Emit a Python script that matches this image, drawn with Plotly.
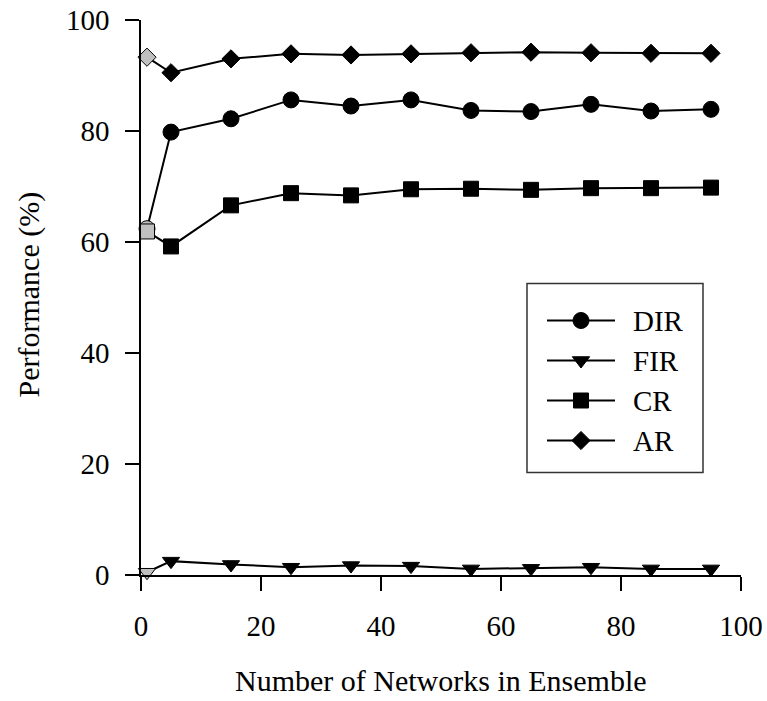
import plotly.graph_objects as go

# Ensemble size (number of networks)
n_networks = [1, 5, 15, 25, 35, 45, 55, 65, 75, 85, 95]

# Performance (%) per metric
dir_vals = [62.4, 79.8, 82.2, 85.6, 84.5, 85.6, 83.7, 83.5, 84.8, 83.6, 83.9]
fir_vals = [0.5, 2.5, 1.9, 1.4, 1.7, 1.6, 1.1, 1.2, 1.4, 1.1, 1.1]
cr_vals = [61.9, 59.2, 66.6, 68.8, 68.4, 69.5, 69.6, 69.4, 69.7, 69.7, 69.8]
ar_vals = [93.3, 90.5, 93.0, 93.9, 93.7, 93.9, 94.1, 94.2, 94.1, 94.0, 94.0]

series_names = ["DIR", "FIR", "CR", "AR"]
series_values = [dir_vals, fir_vals, cr_vals, ar_vals]
symbols = ["circle", "triangle-down", "square", "diamond"]
sizes = [16, 15, 15, 14]

x_ticks = [0, 20, 40, 60, 80, 100]
y_ticks = [0, 20, 40, 60, 80, 100]

FONT = "Liberation Serif, Times New Roman, serif"
SINGLE = "#c0c0c0"   # single-network point
INK = "black"

fig = go.Figure()

for name, vals, sym, sz in zip(series_names, series_values, symbols, sizes):
    colors = [SINGLE] + [INK] * (len(vals) - 1)
    fig.add_trace(go.Scatter(
        x=n_networks, y=vals, name=name, mode="lines+markers",
        line=dict(color=INK, width=2),
        marker=dict(symbol=sym, size=sz, color=colors,
                    line=dict(color=INK, width=1)),
        cliponaxis=False, showlegend=False,
    ))

# Legend drawn in a pixel-unit overlay over the plot area
LX0, LX1, LY0, LY1 = 527, 703, 283, 472
row_y = [320, 360, 400, 440]
for name, sym, sz, yy in zip(series_names, symbols, sizes, row_y):
    fig.add_trace(go.Scatter(
        x=[547, 615], y=[yy, yy], mode="lines",
        line=dict(color=INK, width=2),
        xaxis="x2", yaxis="y2", cliponaxis=False, showlegend=False,
        hoverinfo="skip",
    ))
    fig.add_trace(go.Scatter(
        x=[581], y=[yy], mode="markers",
        marker=dict(symbol=sym, size=sz, color=INK,
                    line=dict(color=INK, width=1)),
        xaxis="x2", yaxis="y2", cliponaxis=False, showlegend=False,
        hoverinfo="skip",
    ))
    fig.add_annotation(x=631, y=yy, xref="x2", yref="y2", text=name,
                       showarrow=False, xanchor="left", yanchor="middle",
                       font=dict(family=FONT, size=29, color=INK))
fig.add_shape(type="rect", xref="x2", yref="y2", x0=LX0, x1=LX1,
              y0=LY0, y1=LY1, line=dict(color="#333333", width=1.5),
              fillcolor="rgba(0,0,0,0)")

axis_common = dict(
    showgrid=False, zeroline=False, showline=True, linecolor=INK,
    linewidth=1.5, ticks="outside", ticklen=14, tickwidth=1.5,
    tickcolor=INK, tickfont=dict(family=FONT, size=29, color=INK),
    automargin=False, ticklabelstandoff=10,
)

fig.update_layout(
    template="none",
    width=767, height=701,
    margin=dict(l=141, r=26, t=20, b=126, pad=0),
    paper_bgcolor="white", plot_bgcolor="white",
    xaxis=dict(range=[0, 100], tickvals=x_ticks, **axis_common),
    yaxis=dict(range=[0, 100], tickvals=y_ticks, **axis_common),
    xaxis2=dict(range=[141, 741], overlaying="x", visible=False,
                domain=[0, 1]),
    yaxis2=dict(range=[574.5, 19.5], overlaying="y", visible=False,
                domain=[0, 1]),
    showlegend=False,
)

# Axis titles
fig.add_annotation(text="Number of Networks in Ensemble", xref="paper",
                   yref="paper", x=0.5, y=(574.5 - 680) / 555,
                   showarrow=False, xanchor="center", yanchor="middle",
                   font=dict(family=FONT, size=30, color=INK))
fig.add_annotation(text="Performance (%)", xref="paper", yref="paper",
                   x=(28 - 141) / 600, y=(574.5 - 294) / 555,
                   showarrow=False, textangle=-90, xanchor="center",
                   yanchor="middle", font=dict(family=FONT, size=30, color=INK))

fig.write_html("out.html")
